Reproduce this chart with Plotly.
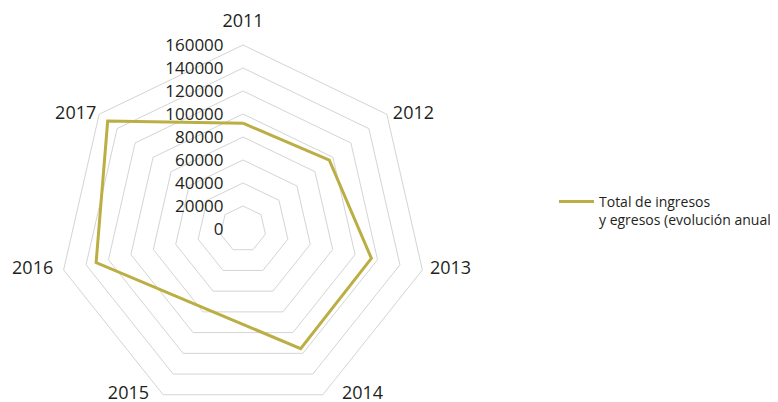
import plotly.graph_objects as go

years = ["2011", "2012", "2013", "2014", "2015", "2016", "2017"]
totals = [92000, 96000, 114500, 115500, 76500, 131000, 150500]
radial_ticks = [0, 20000, 40000, 60000, 80000, 100000, 120000, 140000, 160000]
series_name = "Total de ingresos<br>y egresos (evolución anual)"

# page body has an 8px margin, so figure coords are offset by -8
W, H = 778, 442
cx, R = 235, 184
# styling for the category labels at the outer ring
label_pos = ["top center", "middle right", "middle right", "middle right",
             "middle left", "middle left", "middle left"]
label_pad = [20, 8, 10.5, 29, 21, 15, 3]  # invisible marker sizes -> text offset

txt = "#231f20"
fig = go.Figure()
fig.add_trace(go.Scatterpolar(
    r=totals + [totals[0]],
    theta=years + [years[0]],
    mode="lines",
    line=dict(color="#bbae42", width=3),
    name=series_name,
))
fig.add_trace(go.Scatterpolar(
    r=[radial_ticks[-1]] * len(years),
    theta=years,
    mode="markers+text",
    marker=dict(size=label_pad, color="rgba(0,0,0,0)"),
    text=years,
    textposition=label_pos,
    textfont=dict(size=18, color=txt, family="Open Sans"),
    cliponaxis=False,
    showlegend=False,
    hoverinfo="skip",
))

fig.update_layout(
    width=W, height=H,
    margin=dict(l=0, r=0, t=0, b=0),
    paper_bgcolor="white",
    font=dict(family="Open Sans", color=txt),
    showlegend=True,
    legend=dict(
        x=546 / W, xanchor="left",
        y=1 - 178 / H, yanchor="top",
        valign="top",
        itemwidth=35,
        font=dict(size=14, color=txt, family="Open Sans"),
        bgcolor="rgba(0,0,0,0)",
    ),
    polar=dict(
        domain=dict(x=[(cx - R) / W, (cx + R) / W], y=[0, 1]),
        bgcolor="white",
        gridshape="linear",
        angularaxis=dict(
            rotation=90,
            direction="clockwise",
            categoryorder="array",
            categoryarray=years,
            showgrid=False,
            showline=True,
            linecolor="#d4d4d4",
            linewidth=1,
            ticks="",
            showticklabels=False,
        ),
        radialaxis=dict(
            range=[0, radial_ticks[-1]],
            angle=90,
            tickangle=90,
            side="counterclockwise",
            tickvals=radial_ticks,
            ticktext=[str(v) for v in radial_ticks],
            showline=False,
            ticks="outside",
            ticklen=13,
            tickcolor="rgba(0,0,0,0)",
            gridcolor="#d4d4d4",
            gridwidth=1,
            tickfont=dict(size=17, color=txt),
        ),
    ),
)

fig.write_html("out.html")
